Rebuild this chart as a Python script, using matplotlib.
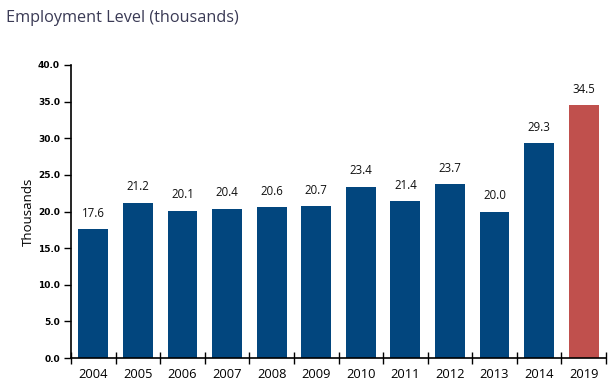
import matplotlib.pyplot as plt
import numpy as np

plt.rcParams.update({
    "font.family": ["Open Sans", "DejaVu Sans"],
})

years = ["2004", "2005", "2006", "2007", "2008", "2009", "2010", "2011", "2012", "2013", "2014", "2019"]
values = [17.6, 21.2, 20.1, 20.4, 20.6, 20.7, 23.4, 21.4, 23.7, 20.0, 29.3, 34.5]
y_ticks = [0.0, 5.0, 10.0, 15.0, 20.0, 25.0, 30.0, 35.0, 40.0]

BLUE = "#02467e"
RED = "#c0504d"
colors = [BLUE] * (len(years) - 1) + [RED]

fig = plt.figure(figsize=(6.13, 3.92), dpi=100)
ax = fig.add_axes([71 / 613, 1 - 358 / 392, (606 - 71) / 613, (358 - 65) / 392])

x = np.arange(len(years))
bars = ax.bar(x, values, width=0.67, color=colors, zorder=2)

# value labels above each bar
for xi, v in zip(x, values):
    ax.text(xi, v + 1.3, f"{v:.1f}", ha="center", va="bottom", fontsize=8.3, color="#111111")

ax.set_xlim(-0.5, len(years) - 0.5)
ax.set_ylim(0, 40)

# category ticks sit on the boundaries between bars
ax.set_xticks(np.arange(len(years) + 1) - 0.5)
ax.set_xticklabels([])
ax.set_xticks(x, minor=True)
ax.set_xticklabels(years, minor=True, fontsize=9.3)
ax.tick_params(axis="x", which="major", direction="inout", length=9, width=1, color="black")
ax.tick_params(axis="x", which="minor", length=0, pad=7)

ax.set_yticks(y_ticks)
ax.set_yticklabels([f"{t:.1f}" for t in y_ticks], fontsize=6.5, fontweight="bold",
                   family=["Liberation Sans Narrow", "DejaVu Sans"])
ax.tick_params(axis="y", direction="out", length=5, width=1, color="black", pad=3)

ax.set_ylabel("Thousands", fontsize=9.5, labelpad=2)

for side in ["top", "right"]:
    ax.spines[side].set_visible(False)
for side in ["left", "bottom"]:
    ax.spines[side].set_linewidth(1.2)

fig.text(6 / 613, 1 - 18 / 392, "Employment Level (thousands)", fontsize=11.7,
         color="#3a3a55", va="center", ha="left")

plt.savefig("out.png", dpi=100)
